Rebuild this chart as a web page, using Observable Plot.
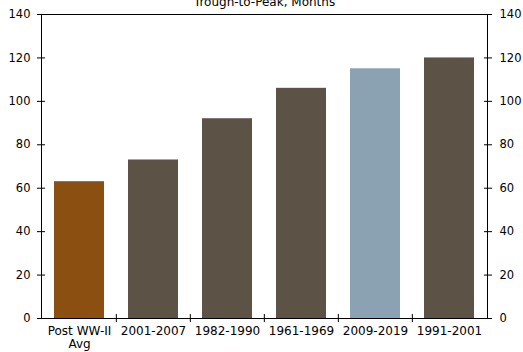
<!DOCTYPE html>
<html>
<head>
<meta charset="utf-8">
<script src="https://cdn.jsdelivr.net/npm/d3@7"></script>
<script src="https://cdn.jsdelivr.net/npm/@observablehq/plot@0.6"></script>
<style>
  html, body { margin: 0; padding: 0; background: #fff; }
  svg { font-family: "DejaVu Sans", Verdana, sans-serif; }
</style>
</head>
<body>
<div id="chart"></div>
<script>
const categories = ["Post WW-II\nAvg", "2001-2007", "1982-1990", "1961-1969", "2009-2019", "1991-2001"];
const months = [63, 73, 92, 106, 115, 120];
const barColors = ["#8C4F12", "#5D5246", "#5D5246", "#5D5246", "#8AA2B2", "#5D5246"];
const yTicks = [0, 20, 40, 60, 80, 100, 120, 140];
const title = "Trough-to-Peak, Months";

const data = categories.map((c, i) => ({cat: c, value: months[i], color: barColors[i]}));

const W = 523, H = 352, mL = 41, mR = 36, mT = 14, mB = 34;
const step = (W - mL - mR) / categories.length;
const bw = 50;
const pIn = 1 - bw / step;

const chart = Plot.plot({
  width: W, height: H,
  marginLeft: mL, marginRight: mR, marginTop: mT, marginBottom: mB,
  style: {fontSize: "11px", fontFamily: "'DejaVu Sans', Verdana, sans-serif", color: "#000"},
  x: {domain: categories, paddingInner: pIn, paddingOuter: pIn / 2, label: null},
  y: {domain: [0, 140], label: null},
  marks: [
    Plot.barY(data, {x: "cat", y: "value", fill: "color"}),
    Plot.frame({stroke: "#000", strokeWidth: 1}),
    // left axis
    Plot.axisY({anchor: "left", ticks: yTicks, tickSize: 4, tickPadding: 7, label: null, stroke: "#000", fill: "#000", fontSize: 11.5}),
    Plot.axisY({anchor: "left", ticks: yTicks, tickSize: 4, dx: 4, text: null, label: null, stroke: "#000"}),
    // right axis
    Plot.axisY({anchor: "right", ticks: yTicks, tickSize: 4, tickPadding: 8, label: null, stroke: "#000", fill: "#000", fontSize: 11.5}),
    Plot.axisY({anchor: "right", ticks: yTicks, tickSize: 4, dx: -4, text: null, label: null, stroke: "#000"}),
    // x labels
    Plot.axisX({anchor: "bottom", tickSize: 0, tickPadding: 8, label: null, fill: "#000", fontSize: 12, lineHeight: 1.05}),
    // x boundary ticks
    Plot.axisX({anchor: "bottom", ticks: categories.slice(1), tickSize: 4, dx: -step / 2, text: null, label: null, stroke: "#000"}),
    Plot.axisX({anchor: "bottom", ticks: categories.slice(1), tickSize: 4, dx: -step / 2, dy: -4, text: null, label: null, stroke: "#000"}),
    Plot.text([title], {frameAnchor: "top", dy: -9, lineAnchor: "bottom", text: d => d, fontSize: 12, fill: "#000"})
  ]
});
document.getElementById("chart").appendChild(chart);
</script>
</body>
</html>
